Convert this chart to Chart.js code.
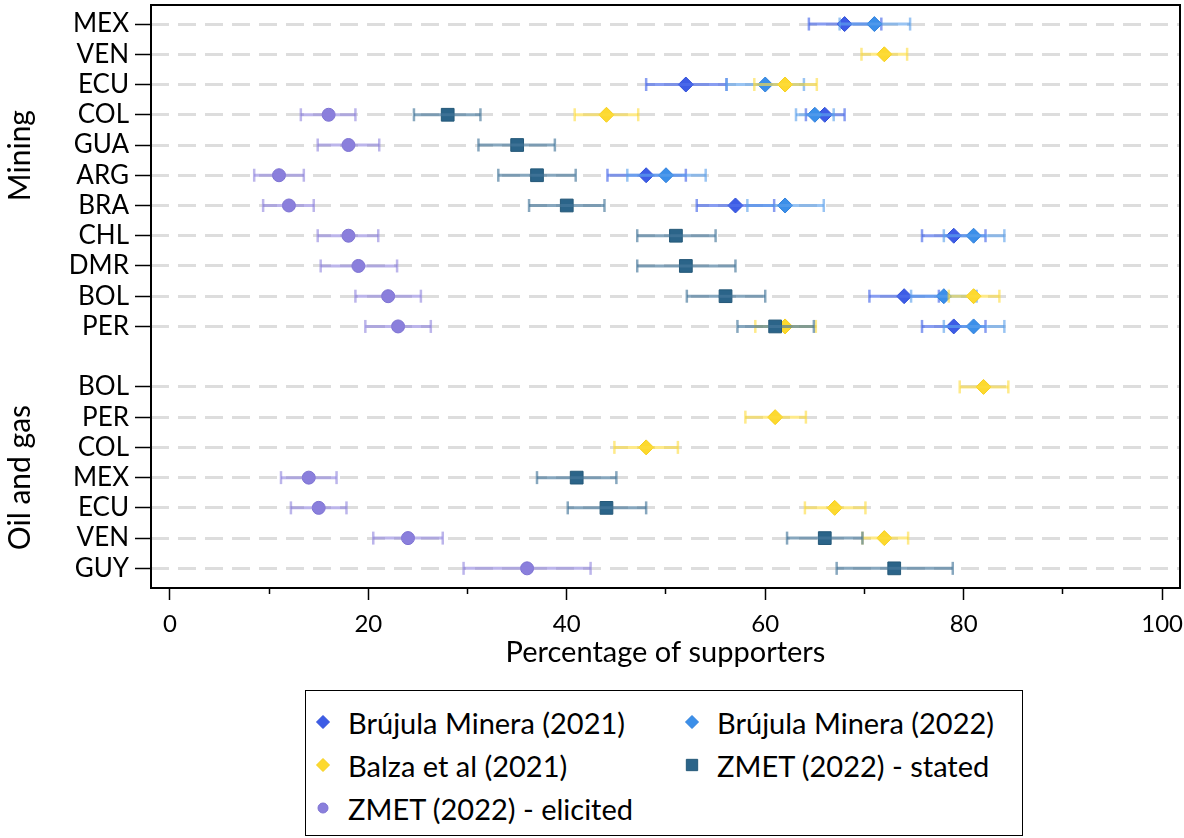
<!DOCTYPE html>
<html>
<head>
<meta charset="utf-8">
<title>Percentage of supporters</title>
<script src="https://cdn.jsdelivr.net/npm/chart.js@4.4.1/dist/chart.umd.min.js"></script>
<style>
  html, body { margin: 0; padding: 0; background: #fff; }
  #wrap { position: relative; width: 1184px; height: 838px; overflow: hidden; }
  #chart { position: absolute; left: 0; top: 0; }
  #legend {
    position: absolute; left: 305px; top: 690px; width: 718px; height: 146px;
    box-sizing: border-box; border: 1.5px solid #000; background: #fff;
    font-family: Lato, "Open Sans", sans-serif; font-size: 29px; color: #000;
  }
  #legend .item { position: absolute; display: flex; align-items: center; height: 36px; white-space: nowrap; }
  #legend canvas { display: block; margin-right: 16px; }
</style>
</head>
<body>
<div id="wrap">
  <canvas id="chart" width="1184" height="838"></canvas>
  <div id="legend"></div>
</div>
<script>
// Row labels, top to bottom, for each sector group
const rowsMining = ['MEX', 'VEN', 'ECU', 'COL', 'GUA', 'ARG', 'BRA', 'CHL', 'DMR', 'BOL', 'PER'];
const rowsOilGas = ['BOL', 'PER', 'COL', 'MEX', 'ECU', 'VEN', 'GUY'];
const groupNames = ['Mining', 'Oil and gas'];

// x-axis ticks (labels only every 20)
const xTickValues = [0, 10, 20, 30, 40, 50, 60, 70, 80, 90, 100];
const xLabelStep = 20;

// Values per row: 11 mining rows followed by 7 oil and gas rows (null = no estimate)
// Brújula Minera (2021)
const bm2021Mid = [68, null, 52, 66, null, 48, 57, 79, null, 74, 79,    null, null, null, null, null, null, null];
const bm2021Lo  = [64.4, null, 48.0, 64.1, null, 44.1, 53.1, 75.8, null, 70.5, 75.8,    null, null, null, null, null, null, null];
const bm2021Hi  = [71.7, null, 56.1, 68.0, null, 52.0, 60.9, 82.2, null, 77.5, 82.2,    null, null, null, null, null, null, null];
// Brújula Minera (2022)
const bm2022Mid = [71, null, 60, 65, null, 50, 62, 81, null, 78, 81,    null, null, null, null, null, null, null];
const bm2022Lo  = [67.5, null, 56.1, 63.1, null, 46.1, 58.2, 78.0, null, 74.7, 78.0,    null, null, null, null, null, null, null];
const bm2022Hi  = [74.6, null, 63.9, 66.9, null, 54.0, 65.9, 84.1, null, 81.3, 84.1,    null, null, null, null, null, null, null];
// Balza et al (2021)
const balzaMid = [null, 72, 62, 44, null, null, null, null, null, 81, 62,    82, 61, 48, null, 67, 72, null];
const balzaLo  = [null, 69.7, 58.9, 40.8, null, null, null, null, null, 78.5, 59.0,    79.6, 58.0, 44.8, null, 64.0, 69.8, null];
const balzaHi  = [null, 74.3, 65.2, 47.2, null, null, null, null, null, 83.6, 65.1,    84.5, 64.1, 51.2, null, 70.1, 74.4, null];
// ZMET (2022) - stated
const statedMid = [null, null, null, 28, 35, 37, 40, 51, 52, 56, 61,    null, null, null, 41, 44, 66, 73];
const statedLo  = [null, null, null, 24.6, 31.1, 33.1, 36.2, 47.1, 47.1, 52.1, 57.2,    null, null, null, 37.0, 40.1, 62.2, 67.2];
const statedHi  = [null, null, null, 31.3, 38.8, 40.9, 43.8, 55.0, 57.0, 60.0, 64.9,    null, null, null, 45.0, 48.0, 69.8, 78.9];
// ZMET (2022) - elicited
const elicitedMid = [null, null, null, 16, 18, 11, 12, 18, 19, 22, 23,    null, null, null, 14, 15, 24, 36];
const elicitedLo  = [null, null, null, 13.2, 14.9, 8.5, 9.4, 14.9, 15.2, 18.7, 19.7,    null, null, null, 11.2, 12.2, 20.5, 29.6];
const elicitedHi  = [null, null, null, 18.7, 21.1, 13.5, 14.5, 21.0, 22.9, 25.3, 26.3,    null, null, null, 16.8, 17.8, 27.5, 42.4];

// ---- layout of rows on the y scale: one empty slot separates the two groups ----
const rowLabels = rowsMining.concat(rowsOilGas);
const rowPos = rowLabels.map((_, i) => (i < rowsMining.length ? i : i + 1));
const labelAt = {};
rowPos.forEach((p, i) => { labelAt[p] = rowLabels[i]; });
const groupCenters = [4.35, rowsMining.length + 1 + (rowsOilGas.length - 1) / 2];

const FONT = 'Lato, "Open Sans", sans-serif';

const series = [
  { label: 'Brújula Minera (2021)', mid: bm2021Mid, lo: bm2021Lo, hi: bm2021Hi,
    shape: 'rectRot', radius: 7.5, color: '#3d5ce6', edge: '#2f4fd8', bar: 'rgba(80,110,235,0.68)' },
  { label: 'Brújula Minera (2022)', mid: bm2022Mid, lo: bm2022Lo, hi: bm2022Hi,
    shape: 'rectRot', radius: 7.5, color: '#3b8fe9', edge: '#2f80dd', bar: 'rgba(90,160,235,0.62)' },
  { label: 'Balza et al (2021)', mid: balzaMid, lo: balzaLo, hi: balzaHi,
    shape: 'rectRot', radius: 7.5, color: '#fdd92e', edge: '#f5cf1c', bar: 'rgba(253,220,60,0.6)' },
  { label: 'ZMET (2022) - stated', mid: statedMid, lo: statedLo, hi: statedHi,
    shape: 'rect', radius: 9, color: '#2b6489', edge: '#245878', bar: 'rgba(70,120,155,0.65)' },
  { label: 'ZMET (2022) - elicited', mid: elicitedMid, lo: elicitedLo, hi: elicitedHi,
    shape: 'circle', radius: 6.5, color: '#8a7fdc', edge: '#7d72d2', bar: 'rgba(140,128,220,0.58)' }
];

function markerPoints(mid) {
  const pts = [];
  mid.forEach((v, i) => { if (v !== null) pts.push({ x: v, y: rowPos[i] }); });
  return pts;
}
function intervalPoints(lo, hi) {
  const pts = [];
  lo.forEach((l, i) => {
    if (l === null) return;
    pts.push({ x: l, y: rowPos[i] }, { x: hi[i], y: rowPos[i] }, { x: null, y: null });
  });
  return pts;
}

// higher `order` is painted first; each series paints its marker, then its interval on top
const datasets = [];
series.forEach((s, k) => {
  datasets.push({
    type: 'scatter', label: s.label, data: markerPoints(s.mid),
    pointStyle: s.shape, pointRadius: s.radius, pointHoverRadius: s.radius,
    pointBackgroundColor: s.color, pointBorderColor: s.edge, pointBorderWidth: 1,
    order: 100 - 2 * k
  });
  datasets.push({
    type: 'line', label: s.label + ' interval', data: intervalPoints(s.lo, s.hi),
    showLine: true, spanGaps: false, fill: false, tension: 0,
    borderColor: s.bar, borderWidth: 3, borderCapStyle: 'butt',
    pointStyle: 'line', pointRotation: 90, pointRadius: 6.5, pointHoverRadius: 6.5,
    pointBorderColor: s.bar, pointBackgroundColor: s.bar, pointBorderWidth: 2.5,
    order: 99 - 2 * k
  });
});

// box around the plotting area
const framePlugin = {
  id: 'frame',
  beforeDatasetsDraw(chart) {
    const { ctx, chartArea: a } = chart;
    ctx.save();
    ctx.strokeStyle = '#000';
    ctx.lineWidth = 2;
    ctx.strokeRect(a.left, a.top, a.right - a.left, a.bottom - a.top);
    ctx.restore();
  }
};

// rotated group names to the left of the row labels
const groupPlugin = {
  id: 'groups',
  afterDraw(chart) {
    const { ctx } = chart;
    const y = chart.scales.y;
    ctx.save();
    ctx.fillStyle = '#000';
    ctx.font = '30px ' + FONT;
    ctx.textAlign = 'center';
    ctx.textBaseline = 'middle';
    groupNames.forEach((name, g) => {
      ctx.save();
      ctx.translate(20, y.getPixelForValue(groupCenters[g]));
      ctx.rotate(-Math.PI / 2);
      ctx.fillText(name, 0, 0);
      ctx.restore();
    });
    ctx.restore();
  }
};

function drawShape(c, s, r) {
  const g = c.getContext('2d');
  const cx = c.width / 2, cy = c.height / 2;
  g.fillStyle = s.color;
  g.strokeStyle = s.edge;
  g.lineWidth = 1;
  g.beginPath();
  if (s.shape === 'rectRot') {
    g.moveTo(cx, cy - r); g.lineTo(cx + r, cy); g.lineTo(cx, cy + r); g.lineTo(cx - r, cy); g.closePath();
  } else if (s.shape === 'rect') {
    const h = r * Math.SQRT1_2;
    g.rect(cx - h, cy - h, 2 * h, 2 * h);
  } else {
    g.arc(cx, cy, r, 0, Math.PI * 2);
  }
  g.fill();
  g.stroke();
}

function buildLegend() {
  const box = document.getElementById('legend');
  const colX = [8, 377];
  const rowY = [13, 56, 99];
  const legendRadius = { rectRot: 6.5, rect: 8, circle: 5 };
  series.forEach((s, i) => {
    const item = document.createElement('div');
    item.className = 'item';
    item.style.left = colX[i % 2] + 'px';
    item.style.top = rowY[Math.floor(i / 2)] + 'px';
    const c = document.createElement('canvas');
    c.width = 18; c.height = 18;
    drawShape(c, s, legendRadius[s.shape]);
    const t = document.createElement('span');
    t.textContent = s.label;
    item.appendChild(c);
    item.appendChild(t);
    box.appendChild(item);
  });
}

function build() {
  new Chart(document.getElementById('chart'), {
    type: 'scatter',
    data: { datasets },
    options: {
      responsive: false,
      animation: false,
      events: [],
      layout: { padding: { left: 0, right: 4, top: 5, bottom: 168 }, autoPadding: false },
      plugins: { legend: { display: false }, tooltip: { enabled: false } },
      scales: {
        x: {
          type: 'linear', position: 'bottom', min: -1.9, max: 101.8,
          afterBuildTicks(axis) { axis.ticks = xTickValues.map(v => ({ value: v })); },
          afterFit(axis) { axis.height = 82; axis.paddingLeft = 0; axis.paddingRight = 0; },
          ticks: {
            autoSkip: false, maxRotation: 0, color: '#000', padding: 10,
            font: { family: FONT, size: 24 },
            callback: v => (v % xLabelStep === 0 ? String(v) : '')
          },
          grid: {
            drawOnChartArea: false, drawTicks: true, tickLength: 12,
            tickColor: '#000', tickWidth: 1.5,
            tickBorderDash: ctx => (ctx.tick && ctx.tick.value % xLabelStep !== 0 ? [6, 40] : [])
          },
          border: { display: false },
          title: {
            display: true, text: 'Percentage of supporters', color: '#000',
            font: { family: FONT, size: 29 }, padding: { top: 0, bottom: 0 }
          }
        },
        y: {
          type: 'linear', reverse: true, min: -0.63, max: 18.65,
          afterBuildTicks(axis) { axis.ticks = rowPos.map(v => ({ value: v })); },
          afterFit(axis) { axis.width = 151; axis.paddingTop = 0; axis.paddingBottom = 0; },
          ticks: {
            autoSkip: false, color: '#000', padding: 6,
            font: { family: FONT, size: 26 },
            callback: v => labelAt[v] || ''
          },
          grid: {
            color: '#dddddd', lineWidth: 3, drawTicks: true, tickLength: 16,
            tickColor: '#000', tickWidth: 1.5
          },
          border: { display: false, dash: [18, 9] }
        }
      }
    },
    plugins: [framePlugin, groupPlugin]
  });
  buildLegend();
}

const fontsReady = document.fonts && document.fonts.load
  ? Promise.all([document.fonts.load('24px Lato'), document.fonts.load('29px Lato')]).catch(() => null)
  : Promise.resolve();
fontsReady.then(build);
</script>
</body>
</html>
